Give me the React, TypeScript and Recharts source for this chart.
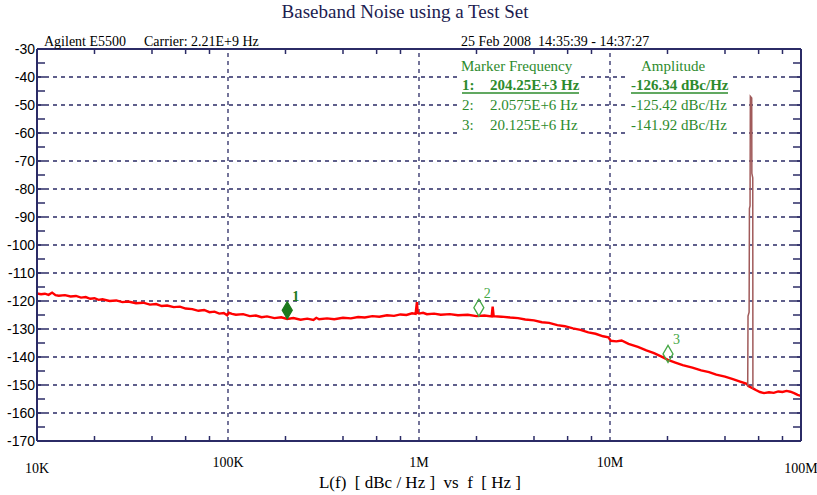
import { ComposedChart, Line, Scatter, XAxis, YAxis, ReferenceLine } from "recharts";

// measured trace, frequency in Hz and level in dBc/Hz
const FREQ = [
  10e3, 10.5e3, 11e3, 11.5e3, 12e3, 12.5e3, 13e3, 14e3, 15e3, 16e3, 17e3, 18e3, 19e3, 20e3, 21e3, 22e3, 24e3, 26e3, 28e3, 30e3,
  33e3, 36e3, 39e3, 42e3, 45e3, 48e3, 52e3, 56e3, 60e3, 65e3, 70e3, 75e3, 80e3, 85e3, 90e3, 95e3, 99e3, 101e3, 105e3, 110e3,
  120e3, 130e3, 140e3, 150e3, 160e3, 175e3, 190e3, 204e3, 220e3, 240e3, 260e3, 280e3, 290e3, 300e3, 330e3, 360e3, 400e3, 440e3, 480e3, 520e3,
  570e3, 620e3, 680e3, 740e3, 800e3, 860e3, 920e3, 960e3, 975e3, 985e3, 1.0e6, 1.05e6, 1.1e6, 1.2e6, 1.3e6, 1.45e6, 1.6e6, 1.8e6, 2.0e6, 2.2e6,
  2.4e6, 2.43e6, 2.46e6, 2.7e6, 3.0e6, 3.3e6, 3.6e6, 4.0e6, 4.4e6, 4.8e6, 5.3e6, 5.8e6, 6.4e6, 7.0e6, 7.7e6, 8.4e6, 9.2e6, 9.8e6, 10.1e6, 10.8e6,
  11.5e6, 12.5e6, 14e6, 15.5e6, 17e6, 18.5e6, 20.1e6, 22e6, 24e6, 27e6, 30e6, 33e6, 36e6, 40e6, 44e6, 48e6, 52e6, 53e6, 56e6, 58e6,
  61e6, 64e6, 68e6, 72e6, 76e6, 80e6, 84e6, 88e6, 92e6, 96e6, 100e6,
];
const LEVEL = [
  -117.3, -117.6, -117.4, -117.8, -117.0, -117.9, -118.1, -117.9, -118.4, -118.2, -118.8, -118.6, -119.2, -119.0, -119.6, -119.4, -120.0, -119.8, -120.4, -120.2,
  -120.8, -120.6, -121.3, -121.1, -121.8, -121.6, -122.2, -122.0, -122.7, -122.9, -123.5, -123.2, -124.0, -123.8, -124.5, -124.3, -125.1, -124.2, -124.6, -124.9,
  -124.7, -125.4, -125.2, -125.8, -125.5, -126.1, -125.8, -126.4, -126.1, -126.7, -126.3, -126.8, -126.0, -126.5, -126.2, -126.5, -126.0, -126.2, -125.7, -125.9,
  -125.4, -125.6, -125.1, -125.3, -124.8, -125.0, -124.4, -124.6, -120.4, -124.3, -124.5, -124.2, -124.7, -124.5, -124.9, -124.7, -125.1, -124.9, -125.4, -125.2,
  -125.5, -122.0, -125.4, -125.6, -125.9, -126.1, -126.6, -126.9, -127.6, -127.8, -128.6, -129.0, -129.8, -130.3, -131.2, -131.7, -132.6, -133.0, -134.2, -134.4,
  -134.1, -135.3, -136.4, -137.6, -138.6, -139.8, -141.0, -142.0, -142.9, -143.8, -144.8, -145.4, -146.3, -147.0, -147.9, -148.8, -149.6, -150.4, -151.2, -151.8,
  -152.5, -152.9, -152.6, -152.8, -152.3, -152.5, -152.1, -152.4, -152.9, -153.5, -153.9,
];

// spur near 55 MHz
const SPUR_FREQ = [52.6e6, 52.8e6, 53.5e6, 53.7e6, 54.1e6, 54.3e6, 55.2e6, 55.3e6, 55.9e6, 56.0e6];
const SPUR_LEVEL = [-150.6, -125.4, -124.0, -87.0, -86.0, -46.9, -47.5, -74.4, -76.0, -151.3];

const MARKER_NO = [1, 2, 3];
const MARKER_FREQ = [204.25e3, 2.0575e6, 20.125e6];
const MARKER_AMP = [-126.34, -125.42, -141.92];
const MARKER_FREQ_TEXT = ["204.25E+3 Hz", "2.0575E+6 Hz", "20.125E+6 Hz"];

const DECADES = [1e4, 1e5, 1e6, 1e7, 1e8];
const DECADE_LABELS = ["10K", "100K", "1M", "10M", "100M"];
const MINOR_X = [2e4, 4e4, 6e4, 8e4, 2e5, 4e5, 6e5, 8e5, 2e6, 4e6, 6e6, 8e6, 2e7, 4e7, 6e7, 8e7];
const GRID_X = [1e5, 1e6, 1e7];
const Y_TICKS = [-30, -35, -40, -45, -50, -55, -60, -65, -70, -75, -80, -85, -90, -95, -100, -105, -110, -115, -120, -125, -130, -135, -140, -145, -150, -155, -160, -165, -170];
const GRID_Y = [-40, -50, -60, -70, -80, -90, -100, -110, -120, -130, -140, -150, -160];

const trace = FREQ.map((f, i) => ({ f, v: LEVEL[i] }));
const spur = SPUR_FREQ.map((f, i) => ({ f, v: SPUR_LEVEL[i] }));
const markers = MARKER_NO.map((n, i) => ({ n, f: MARKER_FREQ[i], v: MARKER_AMP[i] }));

const NAVY = "#2b2b66";
const GREEN = "#2d8b2d";
const SERIF = "'Liberation Serif', 'Times New Roman', serif";
const SANS = "'Liberation Sans', Arial, sans-serif";

function LeftTick({ x, y, payload }: any) {
  const v = payload.value;
  const edge = v === -30 || v === -170;
  return (
    <g>
      {!edge && <line x1={x} x2={x + 8} y1={y} y2={y} stroke={NAVY} strokeWidth={1.5} />}
      {v % 10 === 0 && (
        <text x={x - 2} y={y + 5} textAnchor="end" fontFamily={SANS} fontSize={14} fill="#000">{v}</text>
      )}
    </g>
  );
}

function RightTick({ x, y, payload }: any) {
  const v = payload.value;
  if (v === -30 || v === -170) return <g />;
  return <line x1={x} x2={x - 8} y1={y} y2={y} stroke={NAVY} strokeWidth={1.5} />;
}

function BottomTick({ x, y, payload }: any) {
  const i = DECADES.indexOf(payload.value);
  if (i >= 0) {
    const end = i === 0 || i === DECADES.length - 1;
    return (
      <text x={x} y={y + (end ? 32 : 26)} textAnchor="middle" fontFamily={SERIF} fontSize={14} fill="#000">
        {DECADE_LABELS[i]}
      </text>
    );
  }
  return <line x1={x} x2={x} y1={y} y2={y - 5} stroke={NAVY} strokeWidth={1.5} />;
}

function TopTick({ x, y, payload }: any) {
  if (DECADES.indexOf(payload.value) >= 0) return <g />;
  return <line x1={x} x2={x} y1={y} y2={y + 5} stroke={NAVY} strokeWidth={1.5} />;
}

function MarkerShape({ cx, cy, payload }: any) {
  const first = payload.n === 1;
  const col = first ? "#1d7a1d" : "#45a845";
  const pts = `${cx},${cy - 17} ${cx + 5},${cy - 8.5} ${cx},${cy} ${cx - 5},${cy - 8.5}`;
  return (
    <g>
      <polygon points={pts} fill={first ? col : "none"} stroke={col} strokeWidth={1.3} />
      <text x={cx + 5} y={cy - 18} fontFamily={SERIF} fontSize={14} fontWeight={first ? "bold" : "normal"} fill={col}>
        {payload.n}
      </text>
    </g>
  );
}

export default function App() {
  const rowY = [90, 110, 130];
  return (
    <div style={{ position: "absolute", left: 0, top: 0, width: 817, height: 495, background: "#fff" }}>
      <ComposedChart width={817} height={495} margin={{ top: 0, right: 0, bottom: 0, left: 0 }}>
        <XAxis
          dataKey="f" type="number" scale="log" domain={[1e4, 1e8]} allowDataOverflow
          ticks={[...DECADES, ...MINOR_X]} interval={0} height={54} tickSize={0} tickMargin={0} tickLine={false}
          axisLine={{ stroke: NAVY, strokeWidth: 2 }} tick={<BottomTick />}
        />
        <XAxis
          xAxisId="top" orientation="top" dataKey="f" type="number" scale="log" domain={[1e4, 1e8]} allowDataOverflow
          ticks={[...DECADES, ...MINOR_X]} interval={0} height={49} tickSize={0} tickMargin={0} tickLine={false}
          axisLine={{ stroke: NAVY, strokeWidth: 2 }} tick={<TopTick />}
        />
        <YAxis
          dataKey="v" type="number" domain={[-170, -30]} allowDataOverflow ticks={Y_TICKS} interval={0}
          width={37} tickSize={0} tickMargin={0} tickLine={false} axisLine={{ stroke: NAVY, strokeWidth: 2 }} tick={<LeftTick />}
        />
        <YAxis
          yAxisId="right" orientation="right" type="number" domain={[-170, -30]} allowDataOverflow ticks={Y_TICKS} interval={0}
          width={16} tickSize={0} tickMargin={0} tickLine={false} axisLine={{ stroke: NAVY, strokeWidth: 2 }} tick={<RightTick />}
        />
        {GRID_Y.map((y) => (
          <ReferenceLine key={"gy" + y} y={y} stroke={NAVY} strokeDasharray="4 4" strokeWidth={1.3} />
        ))}
        {GRID_X.map((x) => (
          <ReferenceLine key={"gx" + x} x={x} stroke={NAVY} strokeDasharray="4 4" strokeWidth={1.3} />
        ))}
        <Line data={trace} dataKey="v" stroke="#ff0000" strokeWidth={2.4} dot={false} isAnimationActive={false} />
        <Line data={spur} dataKey="v" stroke="#a05a5a" strokeWidth={1.5} dot={false} isAnimationActive={false} />
        <Scatter data={markers} dataKey="v" shape={<MarkerShape />} isAnimationActive={false} />
      </ComposedChart>

      <svg width={817} height={495} style={{ position: "absolute", left: 0, top: 0, pointerEvents: "none" }}>
        <text x={405} y={18} textAnchor="middle" fontFamily={SERIF} fontSize={19} fill="#1c1c50">
          Baseband Noise using a Test Set
        </text>
        <text x={44} y={46} fontFamily={SERIF} fontSize={14} fill="#000">Agilent E5500</text>
        <text x={144} y={46} fontFamily={SERIF} fontSize={14} fill="#000">Carrier: 2.21E+9 Hz</text>
        <text x={461} y={46} fontFamily={SERIF} fontSize={14} fill="#000" style={{ whiteSpace: "pre" }}>
          25 Feb 2008  14:35:39 - 14:37:27
        </text>

        <rect x={457} y={56} width={124} height={81} fill="#fff" />
        <rect x={626} y={56} width={105} height={81} fill="#fff" />
        <text x={461} y={71} fontFamily={SERIF} fontSize={15} fill={GREEN}>Marker Frequency</text>
        <text x={641} y={71} fontFamily={SERIF} fontSize={15} fill={GREEN}>Amplitude</text>
        {MARKER_NO.map((n, i) => {
          const bold = i === 0;
          return (
            <g key={n} fontFamily={SERIF} fontSize={15} fill={GREEN} fontWeight={bold ? "bold" : "normal"}>
              <text x={462} y={rowY[i]}>{n}:</text>
              <text x={490} y={rowY[i]}>{MARKER_FREQ_TEXT[i]}</text>
              <text x={631} y={rowY[i]}>{MARKER_AMP[i].toFixed(2)} dBc/Hz</text>
              {bold && <line x1={462} x2={579} y1={rowY[i] + 3} y2={rowY[i] + 3} stroke={GREEN} strokeWidth={1.3} />}
              {bold && <line x1={631} x2={728} y1={rowY[i] + 3} y2={rowY[i] + 3} stroke={GREEN} strokeWidth={1.3} />}
            </g>
          );
        })}

        <text x={420} y={488} textAnchor="middle" fontFamily={SERIF} fontSize={17} fill="#000" style={{ whiteSpace: "pre" }}>
          L(f)  [ dBc / Hz ]  vs  f  [ Hz ]
        </text>
      </svg>
    </div>
  );
}
